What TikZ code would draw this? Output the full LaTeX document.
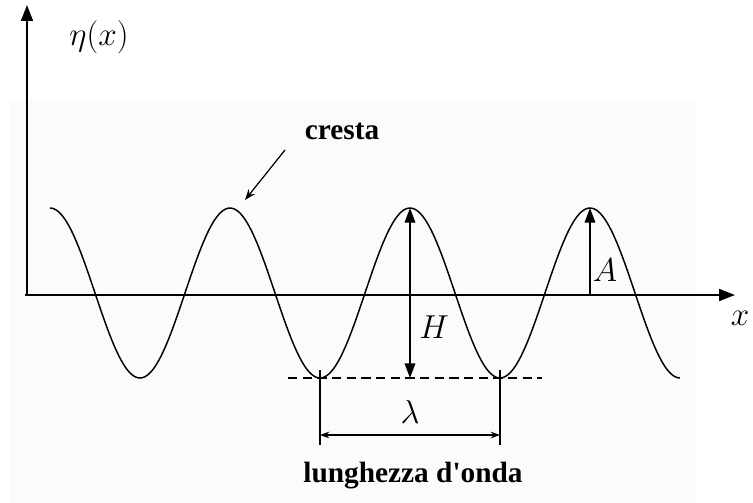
\documentclass[tikz,border=0pt]{standalone}
\usepackage{fontspec}
\newfontfamily\labelfont{Liberation Serif}
\usetikzlibrary{arrows.meta}

\begin{document}
\begin{tikzpicture}[x=0.75pt, y=-0.75pt,
    axisline/.style={line width=1.3pt, -{Triangle[length=12pt, width=9pt]}},
    measure/.style={line width=1pt, {Triangle[length=11pt, width=8pt]}-{Triangle[length=11pt, width=8pt]}},
    upmeasure/.style={line width=1pt, -{Triangle[length=11pt, width=8pt]}},
    spanarrow/.style={line width=0.8pt, {Stealth[length=7pt, width=5pt]}-{Stealth[length=7pt, width=5pt]}},
    wordlabel/.style={font=\labelfont\fontsize{22}{26}\selectfont\bfseries},
    mathlabel/.style={font=\fontsize{28}{32}\selectfont},
]
\useasboundingbox (0,0) rectangle (753,503);
\fill[black!1.5] (10,100) rectangle (696,503);

% axes
\coordinate (o) at (27,295);
\coordinate (ytop) at (27,5);
\coordinate (xend) at (735,295);
\draw[axisline] (o) -- (ytop);
\draw[axisline] (25,295) -- (xend);
\node[mathlabel] (eta) at (99,37) {$\eta(x)$};
\node[mathlabel] (xlbl) at (740,318) {$x$};

% the wave
\draw[line width=1.1pt, smooth, samples=220, domain=50:680]
    plot (\x, {293 - 85*cos(2*(\x-50))});

% crests and troughs
\coordinate (c2) at (230,208);
\coordinate (c3) at (410,208);
\coordinate (c4) at (590,208);
\coordinate (t2) at (320,378);
\coordinate (t3) at (500,378);
\coordinate (h0) at (410,378);
\coordinate (a0) at (590,295);

% still-water level of troughs
\draw[line width=0.8pt, dash pattern=on 7pt off 4pt] (288,378) -- (542,378);

% height and amplitude
\draw[measure] (h0) -- (c3);
\node[mathlabel] (hlbl) at (434,327) {$H$};
\draw[upmeasure] (a0) -- (c4);
\node[mathlabel] (albl) at (605,270) {$A$};

% wavelength
\coordinate (l1) at (320,445);
\coordinate (l2) at (500,445);
\draw[line width=0.8pt] (320,370) -- (l1);
\draw[line width=0.8pt] (500,370) -- (l2);
\draw[spanarrow] (320,435) -- (500,435);
\node[mathlabel] (lam) at (410,412) {$\lambda$};
\node[wordlabel] (lunghezza) at (413,476) {lunghezza d'onda};

% crest
\node[wordlabel] (cresta) at (342,131) {cresta};
\coordinate (cp) at (285,150);
\draw[line width=0.9pt, -{Stealth[length=8pt, width=6pt]}] (cp) -- (245,200);
\end{tikzpicture}
\end{document}
